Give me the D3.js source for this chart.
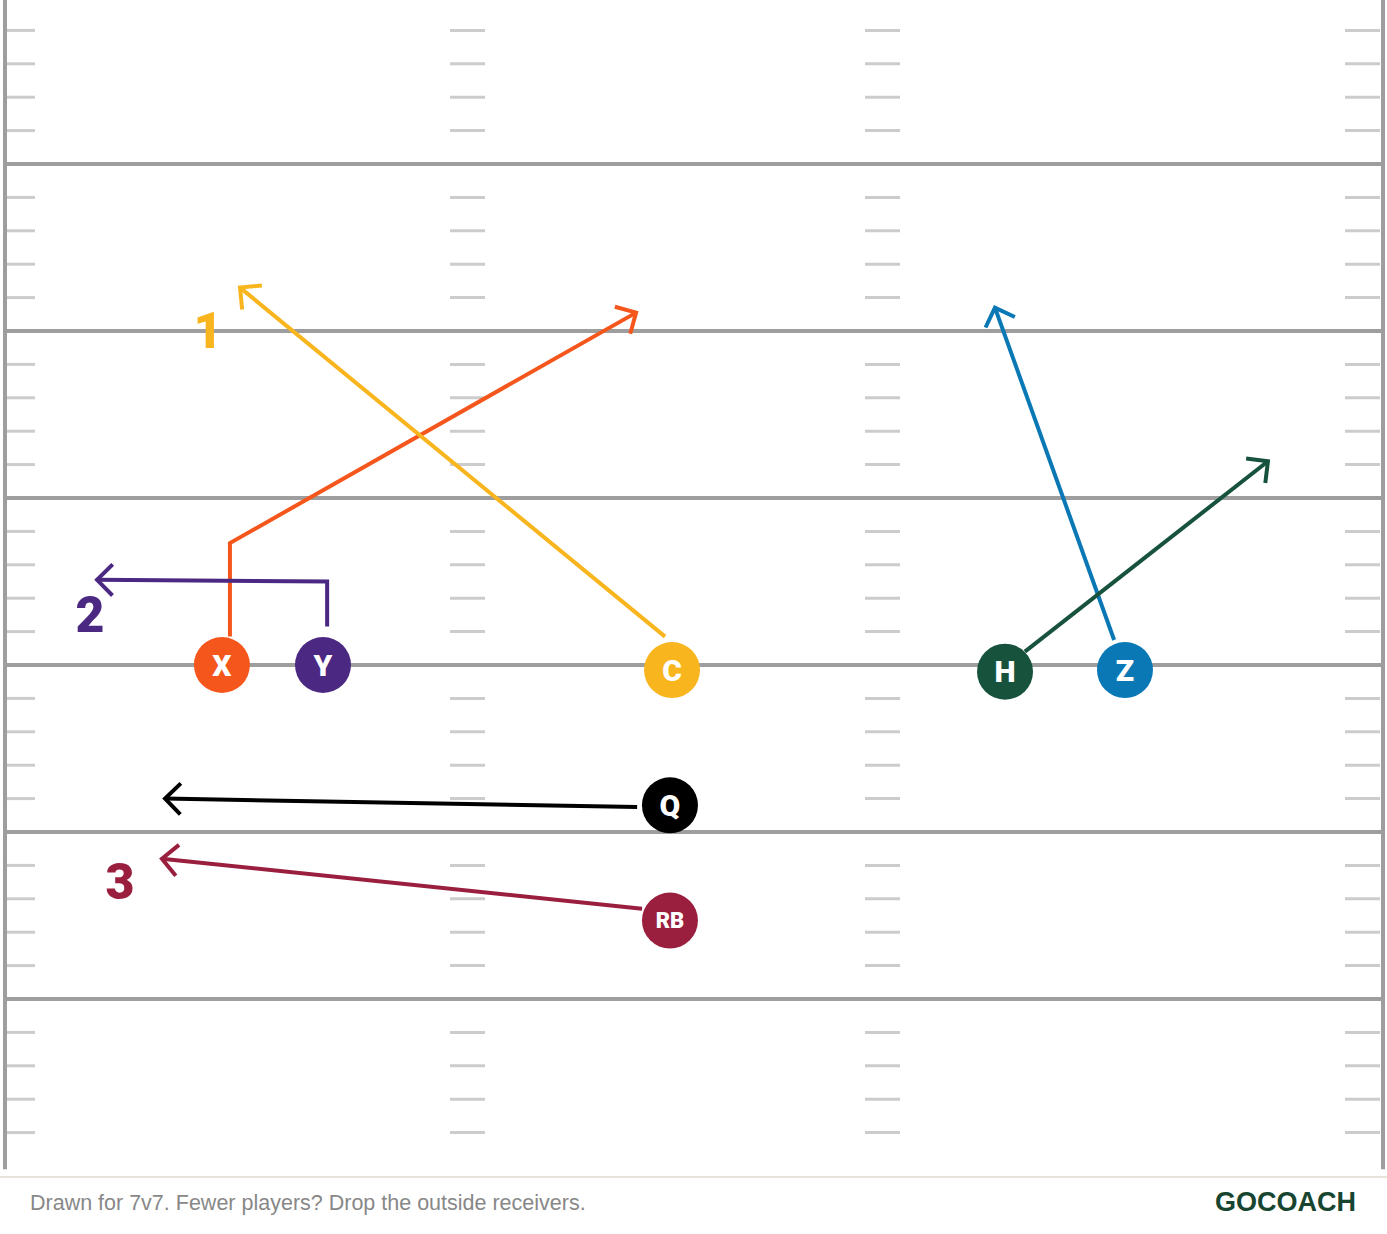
<!DOCTYPE html>
<html><head><meta charset="utf-8">
<script src="https://cdn.jsdelivr.net/npm/d3@7"></script>
<style>body{margin:0;background:#fff}svg{display:block}</style>
</head><body><svg id="c" width="1387" height="1234"></svg>
<script>
// Field in yards: x 0..53.3 (width), y 0..35 (depth)
const yardLines = [5, 10, 15, 20, 25, 30];
const hashCols = ["left", "hashL", "hashR", "right"];
const players = [
  {id:"X", x:8.39, y:20.0, color:"#F5561C"},
  {id:"Y", x:12.30, y:20.0, color:"#4B2882"},
  {id:"C", x:25.80, y:20.15, color:"#F9B51E"},
  {id:"H", x:38.68, y:20.2, color:"#17523D"},
  {id:"Z", x:43.32, y:20.15, color:"#0A78B5"},
  {id:"Q", x:25.72, y:24.2, color:"#000000"},
  {id:"RB", x:25.72, y:27.65, color:"#9A1F3F"}
];
const routes = [
  {p:"X", color:"#F5561C", pts:[[8.70,19.15],[8.70,16.35],[24.41,9.45]]},
  {p:"Y", color:"#4B2882", pts:[[12.46,18.85],[12.46,17.5],[3.56,17.45]]},
  {p:"C", color:"#F9B51E", pts:[[25.53,19.15],[9.09,8.7]]},
  {p:"Z", color:"#0A78B5", pts:[[42.90,19.25],[38.29,9.3]]},
  {p:"H", color:"#17523D", pts:[[39.45,19.6],[48.85,13.9]]},
  {p:"Q", color:"#000000", pts:[[24.45,24.25],[6.19,24.0]]},
  {p:"RB", color:"#9A1F3F", pts:[[24.64,27.3],[6.07,25.8]]}
];
const labels = [
  {t:"1", x:7.85, y:10.5, color:"#F9B51E"},
  {t:"2", x:3.29, y:19.0, color:"#4B2882"},
  {t:"3", x:4.45, y:27.0, color:"#9A1F3F"}
];
const footNote = "Drawn for 7v7. Fewer players? Drop the outside receivers.";
const brand = "GOCOACH";

const svg = d3.select("#c");
const x = d3.scaleLinear().domain([0, 53.3]).range([5, 1383]);
const y = d3.scaleLinear().domain([0, 5]).range([-3, 164]);
const yMax = 35.1;

const tickX = {left:[7,35], hashL:[450,485], hashR:[865,900], right:[1345,1380]};
const ticks = [];
for (let yd = 1; yd < yMax; yd++) if (yd % 5 !== 0) ticks.push(yd);
hashCols.forEach(c => {
  svg.append("g").selectAll("line").data(ticks).join("line")
    .attr("x1", tickX[c][0]).attr("x2", tickX[c][1])
    .attr("y1", d => y(d)).attr("y2", d => y(d))
    .attr("stroke", "#cccccc").attr("stroke-width", 3);
});
svg.append("g").selectAll("line").data(yardLines).join("line")
  .attr("x1", x(0)).attr("x2", x(53.3))
  .attr("y1", d => y(d)).attr("y2", d => y(d))
  .attr("stroke", "#9e9e9e").attr("stroke-width", 4);
[0, 53.3].forEach(v => svg.append("line").attr("x1", x(v)).attr("x2", x(v))
  .attr("y1", 0).attr("y2", y(yMax)).attr("stroke", "#9e9e9e").attr("stroke-width", 4));
svg.append("line").attr("x1", 0).attr("x2", 1387).attr("y1", 1177).attr("y2", 1177)
  .attr("stroke", "#e6e3da").attr("stroke-width", 2);

const line = d3.line().x(d => x(d[0])).y(d => y(d[1]));
routes.forEach(r => {
  const g = svg.append("g");
  g.append("path").attr("d", line(r.pts)).attr("fill", "none")
    .attr("stroke", r.color).attr("stroke-width", 4);
  const n = r.pts.length, a = r.pts[n - 2], b = r.pts[n - 1];
  const bx = x(b[0]), by = y(b[1]);
  const ang = Math.atan2(by - y(a[1]), bx - x(a[0]));
  const L = 22, sp = Math.PI / 4;
  const p1 = [bx - L * Math.cos(ang - sp), by - L * Math.sin(ang - sp)];
  const p2 = [bx - L * Math.cos(ang + sp), by - L * Math.sin(ang + sp)];
  g.append("path").attr("d", `M${p1}L${bx},${by}L${p2}`).attr("fill", "none")
    .attr("stroke", r.color).attr("stroke-width", 4);
});

svg.append("g").selectAll("text").data(labels).join("text")
  .attr("x", d => x(d.x)).attr("y", d => y(d.y)).attr("text-anchor", "middle")
  .attr("fill", d => d.color).attr("font-family", "Roboto, sans-serif")
  .attr("font-weight", 900).attr("font-size", 50).text(d => d.t);

const pg = svg.append("g").selectAll("g").data(players).join("g")
  .attr("transform", d => `translate(${x(d.x)},${y(d.y)})`);
pg.append("circle").attr("r", 28).attr("fill", d => d.color);
pg.append("text").attr("text-anchor", "middle").attr("dy", "0.36em")
  .attr("fill", "#fff").attr("font-family", "Roboto, sans-serif").attr("font-weight", 900)
  .attr("font-size", d => d.id.length > 1 ? 22 : 30).text(d => d.id);

svg.append("text").attr("x", 30).attr("y", 1210).attr("fill", "#888")
  .attr("font-family", "'Liberation Sans', Arial, sans-serif").attr("font-size", 21.5).text(footNote);
svg.append("text").attr("x", 1356).attr("y", 1211).attr("text-anchor", "end").attr("fill", "#17452F")
  .attr("font-family", "'Liberation Sans', Arial, sans-serif").attr("font-weight", 700).attr("font-size", 27).text(brand);
</script></body></html>
